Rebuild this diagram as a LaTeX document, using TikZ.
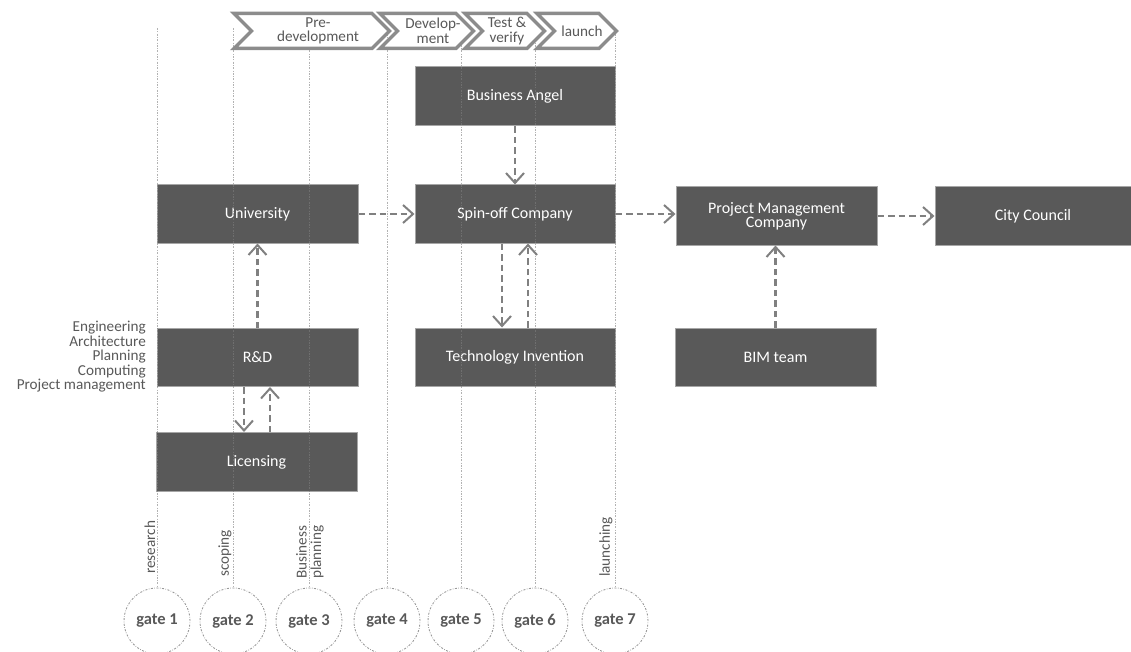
\documentclass[tikz,border=0pt]{standalone}
\usepackage{fontspec}
\setmainfont{Carlito}
\usetikzlibrary{arrows.meta,calc}
\definecolor{boxfill}{HTML}{595959}
\definecolor{boxline}{HTML}{A6A6A6}
\definecolor{arrgray}{HTML}{808080}
\definecolor{txtgray}{HTML}{595959}
\definecolor{chevgray}{HTML}{8C8C8C}
\definecolor{linegray}{HTML}{7F7F7F}
\begin{document}
\begin{tikzpicture}[x=1pt,y=-1pt,
  box/.style={draw=boxline, line width=1pt, fill=boxfill, text=white,
    minimum width=201pt, minimum height=58pt, inner sep=0pt,
    font=\fontsize{16}{14}\selectfont, align=center},
  arr/.style={draw=arrgray, line width=2.2pt, dash pattern=on 6.5pt off 4pt,
    -{Straight Barb[length=10pt,width=18pt,line width=2pt]}},
  gateline/.style={draw=linegray, opacity=0.6, line width=0.9pt,
    dash pattern=on 2pt off 1.5pt on 0.6pt off 1.5pt},
  gate/.style={circle, draw=linegray!80, line width=0.9pt,
    dash pattern=on 2pt off 1.5pt on 0.6pt off 1.5pt,
    minimum size=66pt, inner sep=0pt, text=txtgray,
    font=\bfseries\fontsize{16.5}{16.5}\selectfont},
  lbl/.style={text=txtgray, inner sep=0pt, font=\fontsize{15.2}{14.5}\selectfont},
  chev/.style={draw=chevgray, line width=3.5pt, fill=white, line join=miter}
]
\useasboundingbox (0,0) rectangle (1131,652);

% boxes
\node[box] (univ) at (257.5,214) {University};
\node[box] (rd) at (257.5,357.5) {R\&D};
\node[box, minimum height=59pt] (lic) at (256.5,462) {Licensing};
\node[box, minimum width=200pt, minimum height=59pt] (angel) at (515,96.5) {Business Angel};
\node[box, minimum width=200pt] (spin) at (515,214) {Spin-off Company};
\node[box, minimum width=200pt] (tech) at (515,357) {Technology Invention};
\node[box] (pmc) at (776.5,216) {Project Management\\Company};
\node[box, minimum width=196pt] (city) at (1033,216) {City Council};
\node[box] (bim) at (775.5,357) {BIM team};

% gates
\node[gate] (g1) at (157,621) {gate 1};
\node[gate] (g2) at (233,621) {gate 2};
\node[gate] (g3) at (309,621) {gate 3};
\node[gate] (g4) at (387,621) {gate 4};
\node[gate] (g5) at (461,621) {gate 5};
\node[gate] (g6) at (535,621) {gate 6};
\node[gate] (g7) at (615,621) {gate 7};
\foreach \i/\x in {1/157,2/233,3/309,4/387,5/461,6/535,7/615}{
  \coordinate (t\i) at (\x,28);
  \draw[gateline] (t\i) -- (g\i.north);
}

% chevrons
\foreach \L/\R in {234/372, 380/456, 465/527, 537/599}{
  \draw[chev] (\L,13.5) -- (\R,13.5) -- (\R+17.5,31) -- (\R,48.5) -- (\L,48.5) -- (\L+17.5,31) -- cycle;
}
\node[lbl, align=center] (c1) at (318,31) {Pre-\\development};
\node[lbl, align=center] (c2) at (433,31) {Develop-\\ment};
\node[lbl, align=center] (c3) at (507,31) {Test \&\\verify};
\node[lbl, align=center] (c4) at (582,31) {launch};

% side labels
\node[lbl, align=right, anchor=east] (disc) at (146,357) {Engineering\\Architecture\\Planning\\Computing\\Project management};
\node[lbl, rotate=90, anchor=west] (l1) at (150,574) {research};
\node[lbl, rotate=90, anchor=west] (l2) at (225,577) {scoping};
\node[lbl, rotate=90, anchor=west, align=left] (l3) at (310,579) {Business\\planning};
\node[lbl, rotate=90, anchor=west] (l7) at (606,577) {launching};

% arrows
\draw[arr] (univ.east) -- (spin.west);
\draw[arr] (spin.east) -- (spin.east -| pmc.west);
\draw[arr] (pmc.east) -- (pmc.east -| city.west);
\draw[arr] (angel.south) -- (spin.north);
\draw[arr] ([xshift=-13pt]spin.south) -- ([xshift=-13pt]tech.north);
\draw[arr] ([xshift=13pt]tech.north) -- ([xshift=13pt]spin.south);
\draw[arr] (rd.north) -- (univ.south);
\draw[arr] ([xshift=-13.5pt]rd.south) -- ([xshift=-12.5pt]lic.north);
\draw[arr] ([xshift=13.5pt]lic.north) -- ([xshift=12.5pt]rd.south);
\draw[arr] (bim.north) -- (bim.north |- pmc.south);
\end{tikzpicture}
\end{document}
